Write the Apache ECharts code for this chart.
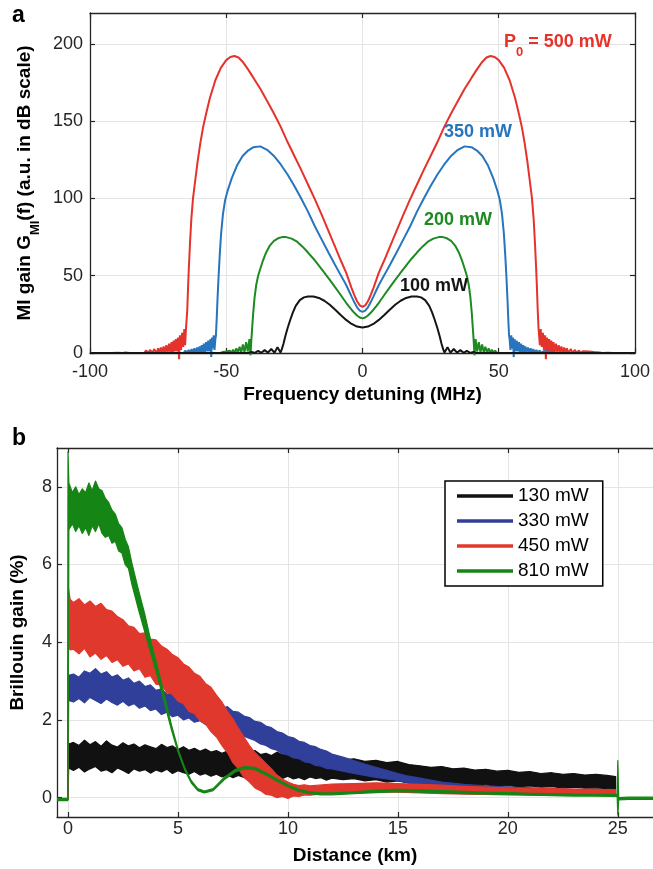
<!DOCTYPE html>
<html><head><meta charset="utf-8">
<script src="https://cdn.jsdelivr.net/npm/echarts@6/dist/echarts.min.js"></script>
<style>html,body{margin:0;padding:0;background:#fff}#c{width:653px;height:869px}</style>
</head><body><div id="c"></div>
<script>
const FONT = "'Liberation Sans', Arial, Helvetica, sans-serif";

// ---------- Panel a: MI gain vs frequency detuning (right half, f >= 0; curves are symmetric) ----------
const freqTicks = [-100, -50, 0, 50, 100];
const gainTicks = [0, 50, 100, 150, 200];
const mi500 = [[0,29.8],[1,30.8],[2,33.5],[3,37.5],[4,42],[5,47],[6,52],[8,60],[10,68.5],[12.5,79],[15,89.5],[17.5,99.6],[20,109],[22.5,118.5],[25,127.5],[27.5,136.5],[30,146.3],[32.5,155],[35,163],[37.5,171],[40,178],[42,183.5],[44,188.5],[45.5,191.2],[47,192.2],[48.5,191.5],[50,189.5],[52,184.5],[54,176.5],[56,165],[57.5,154],[58.5,146],[59.5,136],[60.5,124],[61.5,110],[62.2,100],[62.8,87],[63.3,71],[63.7,56],[64,43],[64.3,28],[64.6,16],
  [64.8,15],[65.1,5],[65.4,15.5],[65.8,4],[66.2,13],[66.6,2],[67,11.5],[67.3,-4],[67.7,10],[68.1,1],[68.5,9],[68.9,1],[69.3,8],[69.7,0.5],[70.1,7],[70.5,0.5],[71,6],[71.5,0.3],[72,5],[72.5,0.3],[73,4.2],[73.5,0.2],[74,3.6],[74.5,0.2],[75,3],[75.5,0.1],[76.5,2.5],[77,0.1],[78,2],[78.5,0.1],[79.5,1.6],[80,0],[81,1.2],[81.5,0],[83,0.9],[83.5,0],[85,0.6],[85.5,0],[87,0.4],[88,0],[90,0.2],[92,0],[100,0]];
const mi350 = [[0,26.6],[1,27.4],[2,29.6],[3,32.8],[4,36.5],[5,40.3],[6,44],[7,47.3],[8,50.4],[10,56.8],[12.5,65],[15,73.5],[17.5,82],[20,91.5],[22.5,100],[25,108],[27.5,115.5],[30,122],[32.5,127.5],[35,131.5],[37.5,133.7],[40,133.2],[42,131],[44,127.5],[46,121.5],[48,113],[49.5,105],[50.4,99],[51.2,90],[51.9,77],[52.4,63],[52.8,50],[53.2,35],[53.5,22],[53.8,11],
  [54,9],[54.3,2],[54.6,11.5],[54.9,3],[55.2,10],[55.5,-2.5],[55.8,9],[56.2,1],[56.6,8],[57,1],[57.4,7],[57.8,0.5],[58.2,6],[58.6,0.5],[59,5],[59.4,0.4],[59.8,4.3],[60.2,0.3],[60.7,3.6],[61.2,0.3],[61.7,3],[62.2,0.2],[62.7,2.5],[63.2,0.1],[63.8,2],[64.4,0.1],[65,1.6],[65.6,0],[66.5,1.2],[67,0],[68,0.9],[68.5,0],[70,0.5],[71,0],[73,0.2],[75,0],[100,0]];
const mi200 = [[0,22.4],[1,23],[2,24.3],[3,26],[4,28],[5,30.2],[6,32.5],[8,37.5],[10,42.5],[12,47.3],[13.2,50],[14,52],[16,56.5],[18,61],[20,65],[22,68.8],[24,72],[26,74],[28,75],[29.5,75],[31,74.2],[32.5,72.5],[34,69.5],[35.5,64.5],[36.5,60],[37.5,54.5],[38.3,50],[39,44],[39.6,36],[40.1,26],[40.5,16],[40.8,8],
  [41.1,-1.5],[41.5,9],[42.1,1],[42.7,7],[43.3,0.5],[43.9,5.5],[44.5,0.3],[45.1,4],[45.7,0.2],[46.3,3],[46.9,0.1],[47.5,2.2],[48.1,0],[48.7,1.5],[49.3,0],[50,1],[50.7,0],[51.4,0.6],[52.2,0],[100,0]];
const mi100 = [[0,16.5],[2,17.1],[4,18.8],[6,21.4],[8,24.6],[10,28],[12,31.2],[14,33.8],[16,35.6],[18,36.5],[20,36.6],[21.5,36],[23,34.2],[24.5,30.5],[25.5,26.5],[26.5,21.5],[27.5,16],[28.3,11],[29,6],[29.6,2.5],[30.1,0.3],
  [31.2,3.8],[32.3,0.2],[33.5,2.6],[34.7,0.2],[35.9,1.9],[37.1,0.1],[38.3,1.3],[39.5,0.1],[40.7,0.7],[41.9,0],[100,0]];

// ---------- Panel b: Brillouin gain vs distance (noise band: lower / upper edge) ----------
const distTicks = [0, 5, 10, 15, 20, 25];
const brilTicks = [0, 2, 4, 6, 8];
const dist130 = [0,0.03,0.25,0.5,0.75,1,1.25,1.5,1.75,2,2.25,2.5,2.75,3,3.25,3.5,3.75,4,4.25,4.5,4.75,5,5.25,5.5,5.75,6,6.25,6.5,6.75,7,7.25,7.5,7.75,8,8.25,8.5,8.75,9,9.25,9.5,9.75,10,10.25,10.5,10.75,11,11.25,11.5,11.75,12,
  12.5,13,13.5,14,14.5,15,15.5,16,16.5,17,17.5,18,18.5,19,19.5,20,20.5,21,21.5,22,22.5,23,23.5,24,24.5,24.9];
const lo130 = [-0.05,0.76,
  0.70,0.78,0.66,0.74,0.80,0.68,0.72,0.64,0.76,0.70,0.62,0.74,0.68,0.72,0.63,0.71,0.66,0.73,0.62,0.69,0.64,0.60,0.67,0.58,
  0.62,0.55,0.60,0.53,0.58,0.51,0.57,0.52,0.48,0.56,0.50,0.54,0.47,0.53,0.49,0.55,0.48,0.52,0.46,0.53,0.49,0.51,0.45,0.50,
  0.46,0.49,0.43,0.46,0.40,0.43,0.37,0.40,0.35,0.37,0.33,0.35,0.31,0.33,0.29,0.31,0.28,0.30,0.27,0.28,0.25,0.27,0.24,0.25,0.23,0.22];
const hi130 = [0,1.38,
  1.42,1.34,1.48,1.36,1.44,1.32,1.46,1.35,1.30,1.41,1.33,1.38,1.28,1.36,1.31,1.26,1.37,1.29,1.33,1.24,1.31,1.22,1.27,1.19,
  1.25,1.17,1.21,1.14,1.20,1.12,1.18,1.10,1.16,1.21,1.11,1.14,1.08,1.17,1.10,1.12,1.05,1.11,1.07,1.03,1.09,1.01,1.06,0.99,
  0.97,1.00,0.93,0.96,0.90,0.93,0.85,0.82,0.78,0.80,0.74,0.76,0.71,0.73,0.68,0.70,0.65,0.67,0.62,0.64,0.60,0.62,0.58,0.60,0.57,0.54];
const dist330 = [0,0.03,0.25,0.5,0.75,1,1.25,1.5,1.75,2,2.25,2.5,2.75,3,3.25,3.5,3.75,4,4.25,4.5,4.75,5,5.25,5.5,5.75,6,6.25,6.5,6.75,7,7.25,7.5,7.75,8,8.25,8.5,8.75,9,9.25,9.5,9.75,10,10.25,10.5,10.75,11,11.25,11.5,11.75,12,
  12.5,13,13.5,14,14.5,15,15.5,16,17,18,19,20,21,22,23,24,24.9];
const lo330 = [-0.05,2.50,
  2.46,2.55,2.44,2.58,2.50,2.42,2.54,2.45,2.38,2.48,2.36,2.42,2.30,2.36,2.24,2.28,2.14,2.20,2.08,2.12,2.00,2.05,1.94,1.98,
  1.88,1.92,1.80,1.85,1.74,1.76,1.64,1.58,1.52,1.47,1.38,1.34,1.26,1.22,1.13,1.10,1.02,1.00,0.92,0.90,0.83,0.81,0.75,0.74,
  0.68,0.62,0.57,0.52,0.48,0.44,0.38,0.34,0.28,0.22,0.18,0.15,0.13,0.12,0.10,0.10,0.09];
const hi330 = [0,3.15,
  3.18,3.10,3.26,3.20,3.32,3.18,3.24,3.10,3.16,3.02,3.08,2.94,3.00,2.86,2.90,2.76,2.80,2.66,2.70,2.56,2.60,2.48,2.54,2.44,
  2.48,2.36,2.40,2.30,2.34,2.22,2.20,2.10,2.06,1.96,1.94,1.84,1.80,1.70,1.66,1.57,1.54,1.45,1.42,1.34,1.31,1.24,1.20,1.12,
  1.04,0.95,0.86,0.78,0.70,0.62,0.55,0.50,0.40,0.34,0.30,0.27,0.25,0.23,0.21,0.20,0.19];
const dist450 = [0,0.02,0.1,0.25,0.5,0.75,1,1.25,1.5,1.75,2,2.25,2.5,2.75,3,3.25,3.5,3.75,4,4.25,4.5,4.75,5,5.25,5.5,5.75,6,6.25,6.5,6.75,7,7.25,7.5,7.75,8,8.25,8.5,8.75,9,9.25,9.5,9.75,10,10.25,10.5,10.75,11,
  12,13,14,15,16,17,18,19,20,21,22,23,24,24.9];
const lo450 = [-0.05,3.9,3.8,
  3.82,3.70,3.84,3.62,3.72,3.56,3.66,3.48,3.55,3.38,3.44,3.26,3.32,3.10,3.14,2.92,2.90,2.70,2.66,2.48,2.42,2.22,
  2.16,1.98,1.90,1.70,1.56,1.34,1.16,0.90,0.74,0.52,0.40,0.25,0.18,0.08,0.06,0.0,0.03,-0.02,0.04,0.03,0.07,0.06,
  0.12,0.14,0.14,0.14,0.12,0.10,0.09,0.08,0.07,0.07,0.06,0.06,0.05,0.05];
const hi450 = [0,5.4,5.1,
  5.02,5.12,4.96,5.06,4.92,5.00,4.84,4.80,4.66,4.58,4.42,4.38,4.22,4.24,4.08,4.06,3.90,3.82,3.68,3.60,3.44,3.36,
  3.20,3.12,2.94,2.84,2.64,2.46,2.22,2.02,1.78,1.56,1.34,1.16,1.02,0.88,0.74,0.58,0.48,0.40,0.34,0.31,0.33,0.30,
  0.35,0.36,0.38,0.36,0.34,0.32,0.29,0.27,0.25,0.24,0.23,0.22,0.21,0.2];
const dist810 = [-0.5,-0.02,0,0.04,0.2,0.35,0.5,0.65,0.8,0.95,1.1,1.25,1.4,1.55,1.7,1.85,2.0,2.15,2.3,2.45,2.6,2.75,2.9,
  3.2,3.5,3.8,4.1,4.4,4.7,5.0,5.3,5.6,5.9,6.2,6.6,7.1,7.6,8.0,8.5,9.0,9.5,10.0,10.5,11.0,11.5,
  12,13,14,15,16,17,18,19,20,21,22,23,24,24.97,25.0,25.04,25.5,26.6];
const lo810 = [-0.08,-0.08,-0.06,6.9,7.05,6.85,7.0,6.8,6.95,6.75,7.0,6.85,7.05,6.8,6.7,6.75,6.55,6.6,6.35,6.3,6.0,5.9,5.5,
  4.85,4.25,3.65,3.05,2.4,1.75,1.18,0.72,0.38,0.18,0.12,0.18,0.46,0.66,0.74,0.72,0.58,0.42,0.28,0.16,0.10,0.07,
  0.07,0.10,0.13,0.15,0.14,0.12,0.10,0.09,0.08,0.06,0.05,0.04,0.04,0.03,-0.45,-0.06,-0.05,-0.05];
const hi810 = [-0.02,-0.02,8.9,8.1,7.85,8.0,7.8,7.95,7.85,8.1,7.9,8.15,7.95,7.9,7.7,7.6,7.4,7.3,7.05,6.95,6.65,6.45,6.05,
  5.35,4.7,3.95,3.3,2.6,1.88,1.26,0.78,0.44,0.23,0.17,0.23,0.52,0.72,0.80,0.78,0.64,0.48,0.33,0.21,0.15,0.12,
  0.12,0.15,0.19,0.21,0.20,0.18,0.16,0.14,0.13,0.11,0.10,0.09,0.08,0.08,0.95,0.0,0.01,0.01];
const legendNames = ['130 mW', '330 mW', '450 mW', '810 mW'];

// ---------- build ----------
function mirror(half) {
  const left = half.filter(p => p[0] > 0).map(p => [-p[0], p[1]]).reverse();
  return left.concat(half);
}
const AX = '#262626', GRIDC = '#e4e4e4';
function boxAxis(extra) {
  return Object.assign({
    type: 'value',
    axisLine: { show: true, onZero: false, lineStyle: { color: AX, width: 1.3 } },
    axisLabel: { show: false },
    splitLine: { show: false }
  }, extra);
}
function tickCfg(ticks) {
  return { show: true, inside: true, length: 5, customValues: ticks, lineStyle: { color: AX, width: 1.2 } };
}
function mainAxis(ticks, min, max, grid, pos, margin, name, nameGap, nameStyle, rotate) {
  return {
    type: 'value', gridIndex: grid, position: pos, min, max,
    name, nameLocation: 'middle', nameGap, nameRotate: rotate,
    nameTextStyle: Object.assign({ fontSize: 19, fontWeight: 'bold', color: '#000', fontFamily: FONT }, nameStyle || {}),
    axisLine: { show: true, onZero: false, lineStyle: { color: AX, width: 1.3 } },
    axisTick: tickCfg(ticks),
    axisLabel: { show: true, customValues: ticks, margin, fontSize: 18, color: AX, fontFamily: FONT },
    splitLine: { show: true, lineStyle: { color: GRIDC, width: 1 } }
  };
}
function miLine(name, arr, color) {
  return { name, type: 'line', xAxisIndex: 0, yAxisIndex: 0, data: mirror(arr), showSymbol: false, clip: false,
    silent: true, lineStyle: { width: 2, color }, itemStyle: { color } };
}
// a noise band drawn as one polygon through the axes' scales
function band(name, color, dist, lo, hi) {
  return {
    name, type: 'custom', xAxisIndex: 2, yAxisIndex: 2, silent: true,
    itemStyle: { color },
    data: dist.map((d, i) => [d, lo[i], hi[i]]),
    encode: { x: 0, y: [1, 2] },
    renderItem: function (params, api) {
      if (params.dataIndexInside !== 0) return null;
      const n = params.dataInsideLength;
      const low = [], up = [];
      for (let j = 0; j < n; j++) {
        const x = api.value(0, j);
        low.push(api.coord([x, api.value(1, j)]));
        up.push(api.coord([x, api.value(2, j)]));
      }
      const pts = low.concat(up.reverse());
      const cs = params.coordSys;
      return {
        type: 'group',
        clipPath: { type: 'rect', shape: { x: cs.x, y: cs.y, width: cs.width, height: cs.height } },
        children: [{ type: 'polygon', shape: { points: pts }, style: { fill: color, stroke: color, lineWidth: 1.2, lineJoin: 'round' } }]
      };
    }
  };
}
const cB = { k: '#111111', b: '#2F3F9A', r: '#E0382C', g: '#158515' };

const chart = echarts.init(document.getElementById('c'), null, { renderer: 'canvas' });
chart.setOption({
  animation: false,
  backgroundColor: '#fff',
  textStyle: { fontFamily: FONT },
  grid: [
    { left: 90, top: 13, width: 549, height: 340 },
    { left: 57, top: 448, width: 596, height: 369 }
  ],
  xAxis: [
    mainAxis(freqTicks, -100, 100, 0, 'bottom', 10, 'Frequency detuning (MHz)', 32),
    boxAxis({ gridIndex: 0, position: 'top', min: -100, max: 100, axisTick: tickCfg(freqTicks) }),
    mainAxis(distTicks, -0.5, 26.6, 1, 'bottom', 3, 'Distance (km)', 29),
    boxAxis({ gridIndex: 1, position: 'top', min: -0.5, max: 26.6, axisTick: tickCfg(distTicks) })
  ],
  yAxis: [
    mainAxis(gainTicks, 0, 220, 0, 'left', 7, '{t|MI gain G}{s|MI}{t|(f) (a.u. in dB scale)}', 42, {
      rich: {
        t: { fontSize: 19, fontWeight: 'bold', color: '#000', fontFamily: FONT, lineHeight: 34 },
        s: { fontSize: 13, fontWeight: 'bold', color: '#000', fontFamily: FONT, lineHeight: 12, verticalAlign: 'bottom' }
      }
    }, 90),
    boxAxis({ gridIndex: 0, position: 'right', min: 0, max: 220, axisTick: tickCfg(gainTicks) }),
    mainAxis(brilTicks, -0.5, 9, 1, 'left', 5, 'Brillouin gain (%)', 30, null, 90)
  ],
  legend: {
    orient: 'vertical', left: 445, top: 481, padding: [5, 14, 5, 12], itemGap: 5,
    itemWidth: 56, itemHeight: 3.5, icon: 'rect', backgroundColor: '#fff',
    borderColor: '#000', borderWidth: 1.5, borderRadius: 0,
    textStyle: { fontSize: 19, lineHeight: 20, color: '#000', fontFamily: FONT },
    selectedMode: false,
    data: [
      { name: legendNames[0], itemStyle: { color: cB.k } },
      { name: legendNames[1], itemStyle: { color: cB.b } },
      { name: legendNames[2], itemStyle: { color: cB.r } },
      { name: legendNames[3], itemStyle: { color: cB.g } }
    ]
  },
  title: [
    { text: 'a', left: 12, top: 4.5, padding: 0, textStyle: { fontSize: 23, fontWeight: 'bold', color: '#000', lineHeight: 23, fontFamily: FONT } },
    { text: 'b', left: 12, top: 427.5, padding: 0, textStyle: { fontSize: 23, fontWeight: 'bold', color: '#000', lineHeight: 23, fontFamily: FONT } },
    { text: '{p|P}{s|0}{p| = 500 mW}', left: 504, top: 24.7, padding: 0, textStyle: { rich: {
        p: { fontSize: 18, fontWeight: 'bold', color: '#E5322B', lineHeight: 34, fontFamily: FONT },
        s: { fontSize: 13, fontWeight: 'bold', color: '#E5322B', lineHeight: 12, verticalAlign: 'bottom', fontFamily: FONT } } } },
    { text: '350 mW', left: 444, top: 123, padding: 0, textStyle: { fontSize: 18, fontWeight: 'bold', color: '#2775BE', lineHeight: 18, fontFamily: FONT } },
    { text: '200 mW', left: 424, top: 211.4, padding: 0, textStyle: { fontSize: 18, fontWeight: 'bold', color: '#1D8A22', lineHeight: 18, fontFamily: FONT } },
    { text: '100 mW', left: 400, top: 277.4, padding: 0, textStyle: { fontSize: 18, fontWeight: 'bold', color: '#151515', lineHeight: 18, fontFamily: FONT } }
  ],
  series: [
    miLine('P500', mi500, '#E5322B'),
    miLine('P350', mi350, '#2775BE'),
    miLine('P200', mi200, '#1D8A22'),
    miLine('P100', mi100, '#151515'),
    band(legendNames[0], cB.k, dist130, lo130, hi130),
    band(legendNames[1], cB.b, dist330, lo330, hi330),
    band(legendNames[2], cB.r, dist450, lo450, hi450),
    band(legendNames[3], cB.g, dist810, lo810, hi810)
  ]
});
</script>
</body></html>
